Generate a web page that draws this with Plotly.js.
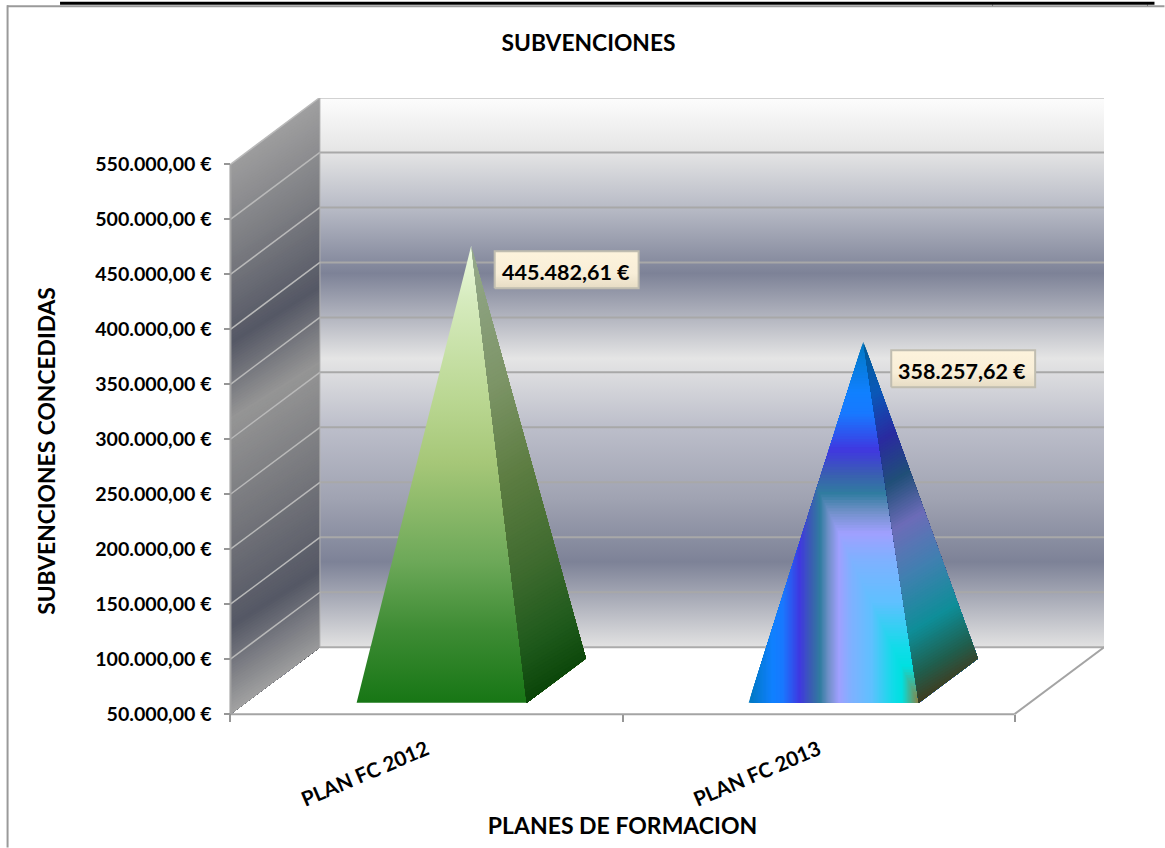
<!DOCTYPE html>
<html>
<head>
<meta charset="utf-8">
<script src="https://cdn.plot.ly/plotly-3.0.1.min.js"></script>
<style>html,body{margin:0;padding:0;background:#fff}#chart{width:1165px;height:848px}</style>
</head>
<body>
<div id="chart"></div>
<script>
const categories = ['PLAN FC 2012', 'PLAN FC 2013'];
const subsidies = [445482.61, 358257.62];
const yTicks = [50000, 100000, 150000, 200000, 250000, 300000, 350000, 400000, 450000, 500000, 550000];
const categoryCentres = [0.5, 1.5];
const categoryEdges = [0, 1, 2];

const wallStops = [[0,'#fdfdfd'],[0.095,'#e6e6e6'],[0.2,'#b8bbc6'],[0.32,'#7d8297'],[0.475,'#e5e5e5'],[0.6,'#bcbeca'],[0.73,'#a0a3b2'],[0.845,'#7d8297'],[1,'#e2e2e2']];
const sideWallStops = [[154,'#a0a0a0'],[250,'#7c7d82'],[343,'#555865'],[419,'#959595'],[520,'#77787d'],[627,'#555865'],[714,'#a2a2a2']];
const greenFrontStops = [[247,'#edfbdf'],[300,'#d6ebbe'],[400,'#bad792'],[463,'#a6c778'],[563,'#6ca858'],[630,'#3e8c34'],[703,'#177615']];
const greenSideStops = [[247,'#95a98c'],[400,'#7c9466'],[500,'#5d7d42'],[600,'#3f6b2f'],[680,'#1f5a1c'],[737,'#0a4508']];
const blueFrontStops = [[0,'#0078c0'],[0.14,'#1080ff'],[0.2,'#1878ff'],[0.30,'#4038e0'],[0.37,'#3a60b0'],[0.42,'#307ca0'],[0.47,'#7090c8'],[0.53,'#a0a0ff'],[0.6,'#80b0ff'],[0.72,'#60c0ff'],[0.85,'#10dce8'],[0.9,'#00e0e0'],[1,'#908040']];
const blueSideStops = [[342,'#005c98'],[400,'#0a58b8'],[451,'#2a2aa0'],[499,'#204f78'],[548,'#6c6cb8'],[603,'#4080b0'],[661,'#0e8e98'],[705,'#1f6050'],[737,'#403c20']];

// scales: px per category, px per euro, depth of the pseudo-3D box
const PX_CAT = 392.25, PX_EUR = 55.05 / 50000, DEPTH_X = 89.5 / PX_CAT, DEPTH_Y = 67 / PX_EUR;
const L = 141, R = 1104.5, T = 97.5, B = 804.5, AXIS_PX = 714.5;
const xToPx = x => 230.5 + x * PX_CAT;
const yToPx = y => AXIS_PX - (y - 50000) * PX_EUR;
const proj = (c, v, d) => [c + d * DEPTH_X, v + d * DEPTH_Y];
const paperX = px => (px - L) / (R - L);
const paperY = py => (B - py) / (B - T);

const hex = c => [1,3,5].map(i => parseInt(c.substr(i,2),16));
function colorAt(stops, t) {
  if (t <= stops[0][0]) return stops[0][1];
  for (let i = 1; i < stops.length; i++) {
    if (t <= stops[i][0]) {
      const a = hex(stops[i-1][1]), b = hex(stops[i][1]);
      const r = (t - stops[i-1][0]) / (stops[i][0] - stops[i-1][0]);
      return 'rgb(' + a.map((v,j) => Math.round(v + (b[j]-v)*r)).join(',') + ')';
    }
  }
  return stops[stops.length-1][1];
}
function clip(pts, f, k) {
  const out = [];
  for (let i = 0; i < pts.length; i++) {
    const a = pts[i], b = pts[(i+1) % pts.length], fa = f(a) - k, fb = f(b) - k;
    if (fa >= 0) out.push(a);
    if (fa * fb < 0) { const r = fa / (fa - fb); out.push([a[0] + r*(b[0]-a[0]), a[1] + r*(b[1]-a[1])]); }
  }
  return out;
}
const traces = [];
function fillPoly(pts, color) {
  traces.push({type:'scatter', x:pts.map(p=>p[0]).concat(pts[0][0]), y:pts.map(p=>p[1]).concat(pts[0][1]),
    mode:'lines', line:{width:0, color:color}, fill:'toself', fillcolor:color, hoverinfo:'skip', showlegend:false});
}
function nested(pts, stops, levels, fs) {
  const lo = stops[0][0], hi = stops[stops.length-1][0];
  for (let k = 0; k < levels; k++) {
    const lev = lo + (hi-lo)*k/levels;
    let p = pts;
    if (k > 0) fs.forEach(f => { if (p.length) p = clip(p, f, lev); });
    if (p.length >= 3) fillPoly(p, colorAt(stops, lev + 0.5*(hi-lo)/levels));
  }
}
function line(a, b, color, width) {
  traces.push({type:'scatter', x:[a[0],b[0]], y:[a[1],b[1]], mode:'lines', line:{color:color, width:width}, hoverinfo:'skip', showlegend:false});
}
const fmt = v => { const s = v.toFixed(2).split('.'); return s[0].replace(/\B(?=(\d{3})+$)/g,'.') + ',' + s[1] + ' €'; };

// back wall
const yBase = yTicks[0], yTop = yTicks[yTicks.length-1];
const wall = [proj(0,yBase,1), proj(2,yBase,1), proj(2,yTop,1), proj(0,yTop,1)];
traces.push({type:'scatter', x:wall.map(p=>p[0]).concat(wall[0][0]), y:wall.map(p=>p[1]).concat(wall[0][1]),
  mode:'lines', line:{width:0}, fill:'toself', hoverinfo:'skip', showlegend:false,
  fillcolor:'#bbb',
  fillgradient:{type:'vertical', start:yTop+DEPTH_Y, stop:yBase+DEPTH_Y, colorscale:wallStops}});
// side wall
const side = [proj(0,yBase,0), proj(0,yBase,1), proj(0,yTop,1), proj(0,yTop,0)];
nested(side, sideWallStops, 200, [p => yToPx(p[1]) + 0.63*(xToPx(p[0]) - 230.5)]);

// grid
yTicks.slice(1).forEach(v => {
  line(proj(0,v,1), proj(2,v,1), '#a8a8a8', 2);
  line(proj(0,v,0), proj(0,v,1), '#b9b9b9', 1.5);
});
line(proj(0,yBase,1), proj(2,yBase,1), '#ababab', 2);
line(proj(0,yBase,1), proj(0,yTop,1), '#b0b0b0', 1);
line(proj(0,yBase,0), proj(2,yBase,0), '#a4a4a4', 2);
line(proj(2,yBase,0), proj(2,yBase,1), '#a4a4a4', 2);
line(proj(0,yBase,0), proj(0,yTop,0), '#a4a4a4', 2);

// pyramids
const HALF = 0.217, NEAR = 0.17, FAR = 0.83;
function pyramid(i, frontStops, sideStops, blue) {
  const c = categoryCentres[i], v = subsidies[i];
  const fl = proj(c-HALF, yBase, NEAR), fr = proj(c+HALF, yBase, NEAR), br = proj(c+HALF, yBase, FAR), apex = proj(c, v, 0.5);
  const front = [fl, fr, apex], sideFace = [fr, br, apex];
  if (blue) {
    const fx = p => (p[0]-fl[0])/(fr[0]-fl[0]), fy = p => (apex[1]-p[1])/(apex[1]-fl[1]);
    nested(front, frontStops, 130, [fx, fy]);
  } else {
    traces.push({type:'scatter', x:[fl[0],fr[0],apex[0],fl[0]], y:[fl[1],fr[1],apex[1],fl[1]], mode:'lines', line:{width:0},
      fill:'toself', fillcolor:'#6ca858', hoverinfo:'skip', showlegend:false,
      fillgradient:{type:'vertical', start:apex[1], stop:fl[1], colorscale:frontStops.map(s => [(s[0]-247)/(703-247), s[1]])}});
  }
  const apexPx = xToPx(apex[0]);
  nested(sideFace, sideStops, 130, [p => yToPx(p[1]) + 0.6*(xToPx(p[0]) - apexPx)]);
  return apex;
}
const apex0 = pyramid(0, greenFrontStops, greenSideStops, false);
const apex1 = pyramid(1, blueFrontStops, blueSideStops, true);

// data labels
const labelOffsets = [[95.5, 24], [100, 27]];
const annotations = [];
[apex0, apex1].forEach((a, i) => {
  const cx = a[0] + labelOffsets[i][0]/PX_CAT, cy = a[1] - labelOffsets[i][1]/PX_EUR;
  const hw = 72/PX_CAT, hh = 18.5/PX_EUR;
  traces.push({type:'scatter', x:[cx-hw,cx+hw,cx+hw,cx-hw,cx-hw], y:[cy-hh,cy-hh,cy+hh,cy+hh,cy-hh], mode:'lines',
    line:{color:'#c0bdb0', width:2}, fill:'toself', fillcolor:'#f5ecd6', hoverinfo:'skip', showlegend:false,
    fillgradient:{type:'vertical', start:cy+hh, stop:cy-hh, colorscale:[[0,'#fdf3dc'],[0.6,'#f8eed8'],[1,'#e6dcc4']]}});
  annotations.push({x:cx, y:cy, xref:'x', yref:'y', yshift:-2, xshift:-1, text:fmt(subsidies[i]), showarrow:false,
    font:{family:'Lato', size:21.5, weight:700, color:'#000'}});
});

const hline = (x0,x1,y0,y1,color) => ({type:'rect', xref:'paper', yref:'paper', x0:paperX(x0), x1:paperX(x1), y0:paperY(y0), y1:paperY(y1), fillcolor:color, line:{width:0}});
const shapes = [
  hline(60,1155,1,4,'#000'), hline(992.5,993.5,4,6,'#000'), hline(1147.5,1148.5,4,6,'#000'),
  hline(7,1165,4.5,6.5,'#9a9a9a'), hline(6.5,8.5,4.5,848,'#9a9a9a')
];

const dX = DEPTH_X;
const layout = {
  width:1165, height:848, paper_bgcolor:'#fff', plot_bgcolor:'rgba(0,0,0,0)', showlegend:false, hovermode:false,
  margin:{l:L, r:1165-R, t:T, b:848-B, pad:0},
  title:{text:'SUBVENCIONES', x:588.5/1165, xref:'container', xanchor:'center', y:1-43/848, yref:'container', yanchor:'middle',
    font:{family:'Lato', size:22.8, weight:700, color:'#000'}},
  xaxis:{range:[-dX, 2+dX], anchor:'free', position:(B-AXIS_PX)/(B-T), tickmode:'array', tickvals:categoryCentres, ticktext:categories,
    tickangle:-23, ticks:'', showgrid:false, zeroline:false, showline:false, ticklabelstandoff:19,
    minor:{tickmode:'array', tickvals:categoryEdges, ticks:'outside', ticklen:7, tickwidth:2, tickcolor:'#969696', showgrid:false},
    tickfont:{family:'Lato', size:20.5, weight:700, color:'#000'},
    title:{text:'PLANES DE FORMACION', standoff:7, font:{family:'Lato', size:23, weight:700, color:'#000'}}},
  yaxis:{range:[50000-(B-AXIS_PX)/PX_EUR, 50000+(AXIS_PX-T)/PX_EUR], anchor:'free', position:dX/(2+2*dX), tickmode:'array', tickvals:yTicks, ticktext:yTicks.map(fmt),
    ticks:'outside', ticklen:6, tickwidth:2, tickcolor:'#969696', showgrid:false, zeroline:false, showline:false, ticklabelstandoff:9,
    tickfont:{family:'Lato', size:19.6, weight:700, color:'#000'},
    title:{text:'SUBVENCIONES CONCEDIDAS', standoff:32, font:{family:'Lato', size:22.8, weight:700, color:'#000'}}},
  shapes:shapes, annotations:annotations
};
Plotly.newPlot('chart', traces, layout, {displayModeBar:false, staticPlot:true});
</script>
</body>
</html>
